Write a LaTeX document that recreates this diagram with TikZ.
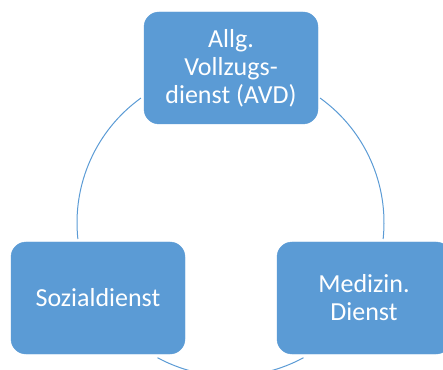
\documentclass[tikz,border=0pt]{standalone}
\usepackage{fontspec}
\setmainfont{Carlito}
\definecolor{boxblue}{HTML}{5B9BD5}
\begin{document}
\begin{tikzpicture}[x=1pt,y=1pt,
  box/.style={draw=boxblue,fill=boxblue,rounded corners=15pt,minimum width=174pt,minimum height=112pt,
    text=white,align=center,font=\fontsize{26}{28}\selectfont,inner sep=0pt},
  link/.style={draw=boxblue,line width=1pt}]
\useasboundingbox (0,0) rectangle (443,369);
\node[box] (avd) at (231,301) {Allg.\\Vollzugs-\\dienst (AVD)};
\node[box] (soz) at (98,71) {Sozialdienst};
\node[box] (med) at (364,71) {Medizin.\\Dienst};
\coordinate (c) at (230.5,146.3);
\draw[link] (c) ++(125.7:153.5) arc[start angle=125.7,end angle=186.1,radius=153.5];
\draw[link] (c) ++(54.3:153.5) arc[start angle=54.3,end angle=-6.1,radius=153.5];
\draw[link] (c) ++(241.6:153.5) arc[start angle=241.6,end angle=298.4,radius=153.5];
\end{tikzpicture}
\end{document}
